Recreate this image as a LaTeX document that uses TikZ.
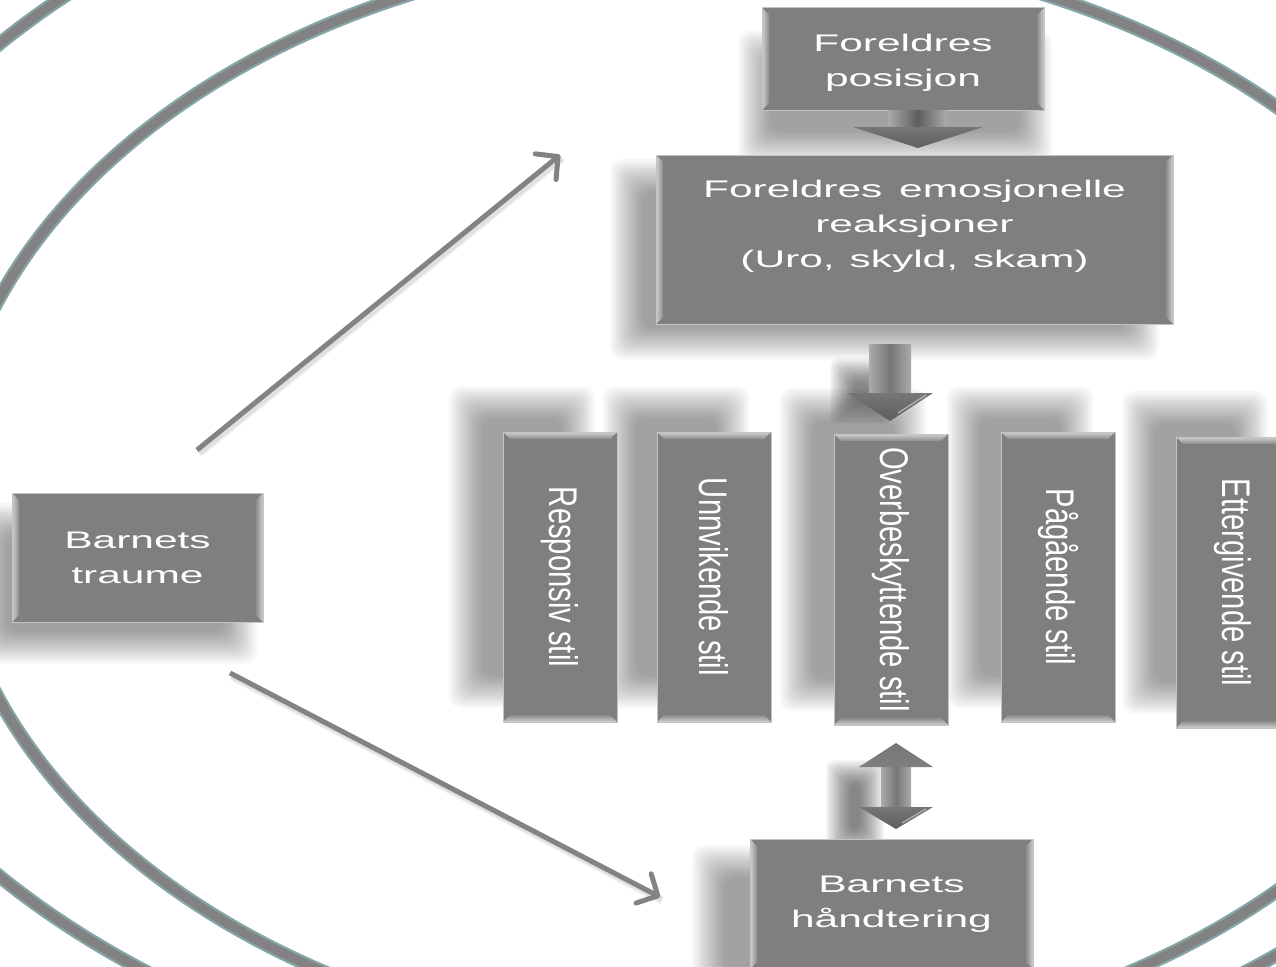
\documentclass[tikz,border=0pt]{standalone}
\usepackage{fontspec}
\setmainfont{Liberation Sans}
\newfontfamily\wideff[FakeStretch=1.77]{Liberation Sans}
\newfontfamily\tallff[FakeStretch=0.73]{Liberation Sans}
\usetikzlibrary{arrows.meta}
\pgfdeclarelayer{bg}
\pgfsetlayers{bg,main}
\definecolor{boxgray}{HTML}{7F7F7F}
\definecolor{edgegray}{HTML}{C4C4C4}
\definecolor{bevlight}{HTML}{CFCFCF}
\definecolor{ringteal}{HTML}{86A5A9}
\definecolor{ringgray}{HTML}{828282}
\definecolor{linegray}{HTML}{838383}
\definecolor{arrowdark}{HTML}{5E5E5E}
\definecolor{arrowmid}{HTML}{767676}
\definecolor{arrowlight}{HTML}{ABABAB}
\tikzset{
  boxbase/.style={rectangle, fill=boxgray, draw=edgegray, line width=1pt, text=white, inner sep=0pt, outer sep=0pt},
  hbox/.style={boxbase, font=\wideff\fontsize{24}{35}\selectfont, align=center},
  vbox/.style={boxbase, font=\tallff\fontsize{40}{40}\selectfont, minimum width=114pt, minimum height=290pt},
  shadowlayer/.style={fill=black, opacity=0.026, rounded corners=12pt},
  ringedge/.style={draw=ringteal, line width=14pt},
  ringcore/.style={draw=ringgray, line width=9.5pt},
  conn/.style={draw=linegray, line width=5pt, -{Straight Barb[length=16pt,width=33pt,line width=5pt,round]}},
  connshadow/.style={draw=black, line width=#1},
}
% soft shadow of a node: node, dx, dy (pixels, y down), blur radius
\newcommand\nodeshadow[4]{%
  \begin{pgfonlayer}{bg}
  \foreach \k in {0,...,14}{%
    \pgfmathsetmacro\ee{#4-\k*2*#4/14}%
    \fill[shadowlayer] ([shift={(#2-\ee,#3-\ee)}]#1.north west) rectangle ([shift={(#2+\ee,#3+\ee)}]#1.south east);
  }
  \end{pgfonlayer}}
% soft shadow of a rectangle x1 y1 x2 y2 radius
\newcommand\rectshadow[5]{%
  \begin{pgfonlayer}{bg}
  \foreach \k in {0,...,14}{%
    \pgfmathsetmacro\ee{#5-\k*2*#5/14}%
    \fill[shadowlayer, opacity=0.04, rounded corners=8pt] (#1-\ee,#2-\ee) rectangle (#3+\ee,#4+\ee);
  }
  \end{pgfonlayer}}
\newcommand\hbevel[1]{%
  \shade[left color=bevlight, right color=boxgray!90!white] (#1.north west) -- ([shift={(7,7)}]#1.north west) -- ([shift={(7,-7)}]#1.south west) -- (#1.south west) -- cycle;
  \shade[left color=boxgray!90!white, right color=bevlight] (#1.north east) -- ([shift={(-7,7)}]#1.north east) -- ([shift={(-7,-7)}]#1.south east) -- (#1.south east) -- cycle;
  \draw[edgegray, line width=1pt] (#1.north west) rectangle (#1.south east);}
\newcommand\vbevel[1]{%
  \shade[top color=bevlight, bottom color=boxgray!90!white] (#1.north west) -- (#1.north east) -- ([shift={(-7,7)}]#1.north east) -- ([shift={(7,7)}]#1.north west) -- cycle;
  \shade[top color=boxgray!90!white, bottom color=bevlight] (#1.south west) -- (#1.south east) -- ([shift={(-7,-7)}]#1.south east) -- ([shift={(7,-7)}]#1.south west) -- cycle;
  \draw[edgegray, line width=1pt] (#1.north west) rectangle (#1.south east);}
\begin{document}
\begin{tikzpicture}[x=1pt,y=-1pt]
\useasboundingbox (0,0) rectangle (1276,966);
\begin{pgfonlayer}{bg}
\fill[white] (0,0) rectangle (1276,966);
\clip (0,0) rectangle (1276,966);
% rings
\draw[ringedge] (696,460) ellipse [x radius=918pt, y radius=639pt];
\draw[ringcore] (696,460) ellipse [x radius=918pt, y radius=639pt];
\draw[ringedge] (727,499) ellipse [x radius=781pt, y radius=552pt];
\draw[ringcore] (727,499) ellipse [x radius=781pt, y radius=552pt];
\end{pgfonlayer}
\clip (0,0) rectangle (1276,966);
% connector end points
\coordinate (l1s) at (197,450);
\coordinate (l1e) at (560,155);
\coordinate (l2s) at (230,673);
\coordinate (l2e) at (660,897);
\draw[connshadow=9pt, opacity=0.05] ([shift={(2,3)}]l1s) -- ([shift={(2,3)}]l1e);
\draw[connshadow=6pt, opacity=0.07] ([shift={(2,3)}]l1s) -- ([shift={(2,3)}]l1e);
\draw[connshadow=9pt, opacity=0.05] ([shift={(2,3)}]l2s) -- ([shift={(2,3)}]l2e);
\draw[connshadow=6pt, opacity=0.07] ([shift={(2,3)}]l2s) -- ([shift={(2,3)}]l2e);
\draw[conn] (l1s) -- (l1e);
\draw[conn] (l2s) -- (l2e);
% horizontal boxes
\node[hbox, minimum width=282pt, minimum height=102pt] (fp) at (903,59) {\rule{0pt}{24pt}Foreldres\\posisjon};
\hbevel{fp}
\nodeshadow{fp}{-8}{38}{16}
\node[hbox, minimum width=517pt, minimum height=169pt] (fe) at (914.5,239.5) {\rule{0pt}{21.5pt}Foreldres\hspace{5pt} emosjonelle\\reaksjoner\\(Uro,\hspace{3pt} skyld,\hspace{3pt} skam)\\\mbox{}};
\hbevel{fe}
\nodeshadow{fe}{-30}{20}{16}
\node[hbox, minimum width=251pt, minimum height=129pt] (bt) at (137.5,557.5) {Barnets\\traume};
\hbevel{bt}
\nodeshadow{bt}{-22}{26}{16}
\node[hbox, minimum width=283pt, minimum height=130pt] (bh) at (891.5,904) {Barnets\\håndtering};
\hbevel{bh}
\nodeshadow{bh}{-42}{22}{16}
% vertical boxes
\node[vbox] (resp) at (560,577) {\rotatebox{-90}{Responsiv stil}};
\vbevel{resp}
\nodeshadow{resp}{-38}{-30}{16}
\node[vbox] (unnv) at (714,577) {\rotatebox{-90}{Unnvikende stil}};
\vbevel{unnv}
\nodeshadow{unnv}{-38}{-30}{16}
\node[vbox, minimum height=291pt] (over) at (891,579.5) {\rotatebox{-90}{Overbeskyttende stil}};
\vbevel{over}
\nodeshadow{over}{-38}{-30}{16}
\node[vbox] (paag) at (1058,577) {\rotatebox{-90}{Pågående stil}};
\vbevel{paag}
\nodeshadow{paag}{-38}{-30}{16}
\node[vbox, minimum height=291pt] (etter) at (1233,582.5) {\rotatebox{-90}{Ettergivende stil}};
\vbevel{etter}
\nodeshadow{etter}{-38}{-30}{16}
% block arrow fp -> fe
\coordinate (a1s) at (918,110);
\coordinate (a1t) at (918,148);
\shade[left color=arrowlight, right color=arrowlight, middle color=arrowdark] ([shift={(-30,0)}]a1s) rectangle ([shift={(29,17)}]a1s);
\shade[top color=arrowmid, bottom color=arrowdark] ([shift={(-65,-21)}]a1t) -- ([shift={(65,-21)}]a1t) -- (a1t) -- cycle;
% block arrow fe -> over
\coordinate (a2s) at (890,344);
\coordinate (a2t) at (890,421);
\rectshadow{842}{370}{880}{412}{12}
\shade[left color=arrowlight, right color=arrowlight, middle color=arrowmid] ([shift={(-21,0)}]a2s) rectangle ([shift={(21,49)}]a2s);
\shade[top color=arrowmid, bottom color=arrowdark] ([shift={(-43,-28)}]a2t) -- ([shift={(43,-28)}]a2t) -- (a2t) -- cycle;
\draw[arrowlight, line width=1.5pt] ([shift={(8,-8)}]a2t) -- ([shift={(36,-26)}]a2t);
% double block arrow over <-> bh
\coordinate (a3t) at (896,743);
\coordinate (a3b) at (896,829);
\rectshadow{838}{772}{872}{842}{12}
\shade[left color=arrowlight, right color=arrowlight, middle color=arrowmid] ([shift={(-15,24)}]a3t) rectangle ([shift={(15,-22)}]a3b);
\shade[top color=arrowmid, bottom color=arrowdark!80!white] (a3t) -- ([shift={(37,24)}]a3t) -- ([shift={(-37,24)}]a3t) -- cycle;
\shade[top color=arrowmid, bottom color=arrowdark] ([shift={(-37,-22)}]a3b) -- ([shift={(37,-22)}]a3b) -- (a3b) -- cycle;
\draw[arrowlight, line width=1.5pt] ([shift={(6,-6)}]a3b) -- ([shift={(30,-20)}]a3b);
\end{tikzpicture}
\end{document}
